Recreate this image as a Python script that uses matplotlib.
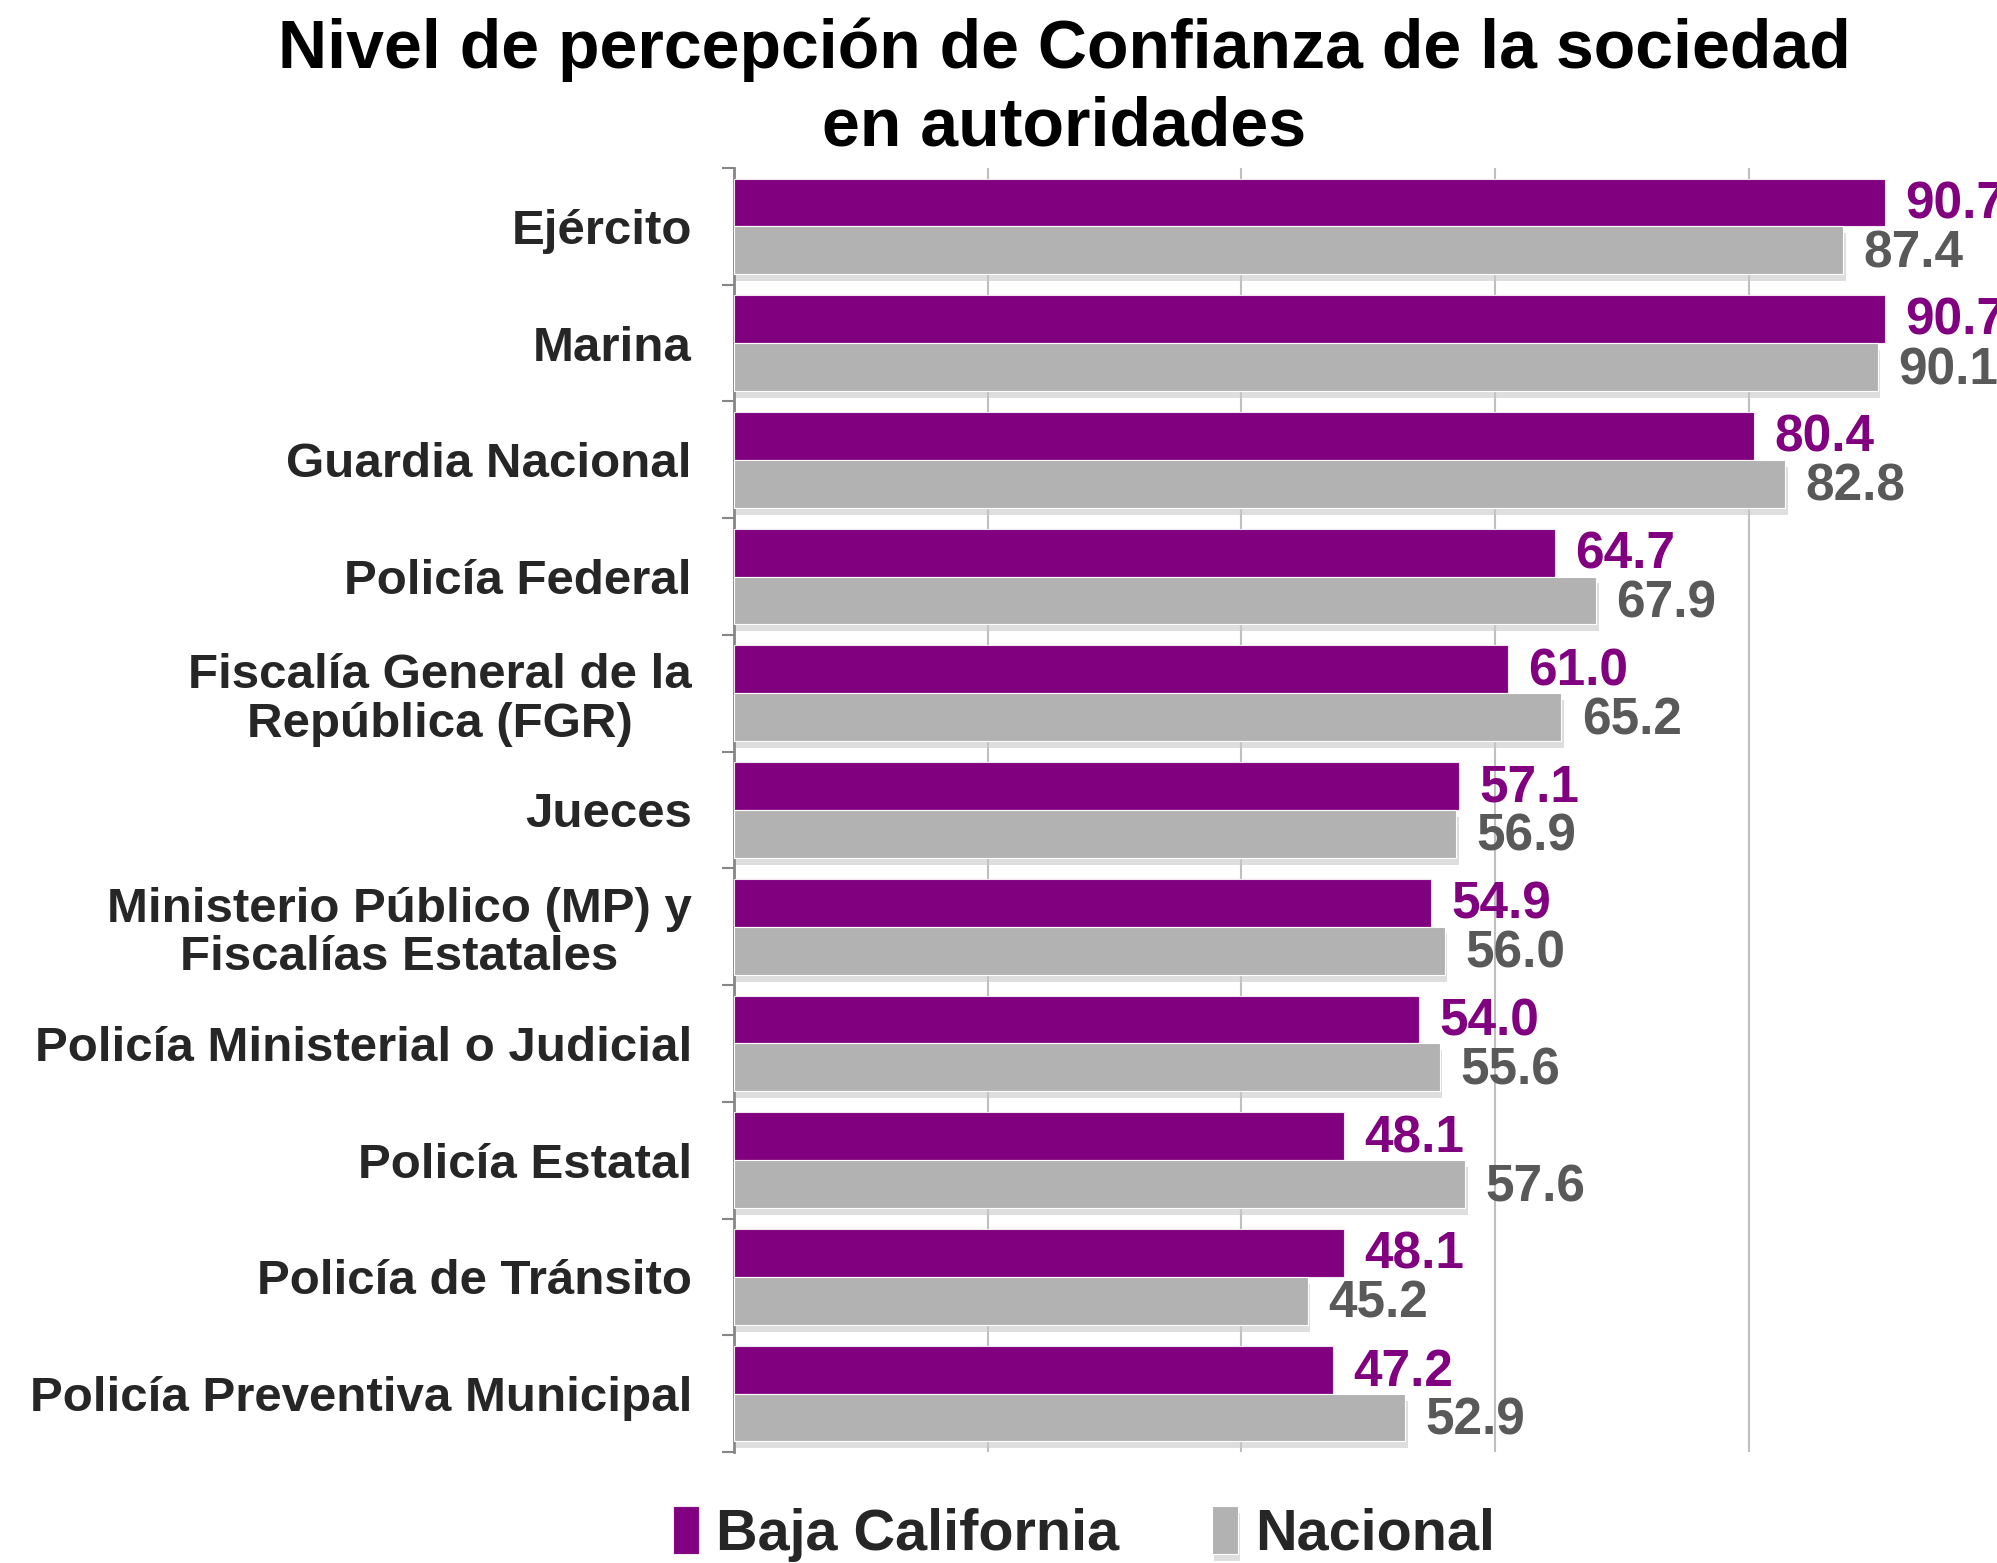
import matplotlib
matplotlib.use("Agg")
import matplotlib.pyplot as plt
import matplotlib.patheffects as pe
import numpy as np

categories = ["Ejército", "Marina", "Guardia Nacional", "Policía Federal",
              "Fiscalía General de la\nRepública (FGR)", "Jueces",
              "Ministerio Público (MP) y\nFiscalías Estatales",
              "Policía Ministerial o Judicial", "Policía Estatal",
              "Policía de Tránsito", "Policía Preventiva Municipal"]
baja_california = [90.7, 90.7, 80.4, 64.7, 61.0, 57.1, 54.9, 54.0, 48.1, 48.1, 47.2]
nacional = [87.4, 90.1, 82.8, 67.9, 65.2, 56.9, 56.0, 55.6, 57.6, 45.2, 52.9]
series_names = ["Baja California", "Nacional"]
title = "Nivel de percepción de Confianza de la sociedad\nen autoridades"

FONT = "Liberation Sans"
plt.rcParams["font.family"] = [FONT, "DejaVu Sans"]

PURPLE = "#800080"
GRAY = "#B2B2B2"
LBL_GRAY = "#595959"
TXT = "#262626"

W, H = 1997, 1563
fig = plt.figure(figsize=(W / 100, H / 100), dpi=100)
ax = fig.add_axes([733.6 / W, 1 - 1452 / H, 1 - 733.6 / W, (1452 - 168) / H])

y = np.arange(len(categories))
h = 0.41
shadow = [pe.SimplePatchShadow(offset=(2, -5), shadow_rgbFace="#c8c8c8", alpha=0.6), pe.Normal()]
b1 = ax.barh(y - h / 2, baja_california, height=h, color=PURPLE, edgecolor="#f0e6f0",
             linewidth=0.8, zorder=3, label=series_names[0])
b2 = ax.barh(y + h / 2, nacional, height=h, color=GRAY, edgecolor="white",
             linewidth=0.8, zorder=3, label=series_names[1], path_effects=shadow)

for yi, v in zip(y, baja_california):
    ax.text(v + 1.6, yi - h / 2 + 0.02, f"{v:.1f}", color=PURPLE, fontsize=37,
            fontweight="bold", va="center", ha="left", zorder=5)
for yi, v in zip(y, nacional):
    ax.text(v + 1.6, yi + h / 2 + 0.03, f"{v:.1f}", color=LBL_GRAY, fontsize=37,
            fontweight="bold", va="center", ha="left", zorder=5)

ax.set_xlim(0, 99.5)
ax.set_ylim(len(categories) - 0.5, -0.5)
ax.set_xticks([0, 20, 40, 60, 80])
ax.set_xticklabels([])
ax.tick_params(axis="x", length=0)
ax.grid(axis="x", color="#BFBFBF", linewidth=1.5, zorder=0)
ax.set_yticks(y)
ax.set_yticklabels(categories, fontsize=35.5, fontweight="bold", color=TXT)
for t in ax.get_yticklabels():
    t.set_multialignment("center")
    t.set_linespacing(1.1)
ax.tick_params(axis="y", which="major", length=0, pad=30)
ax.set_yticks(np.arange(-0.5, len(categories), 1), minor=True)
ax.tick_params(axis="y", which="minor", length=9, width=1.5, color="#868686")
for s in ["top", "right", "bottom"]:
    ax.spines[s].set_visible(False)
ax.spines["left"].set_color("#868686")
ax.spines["left"].set_linewidth(2)

fig.text(1064 / W, 1 - 18 / H, title, ha="center", va="top", fontsize=49,
         fontweight="bold", color="black", linespacing=1.25)

leg = fig.legend(handles=[b1, b2], labels=series_names, loc="center",
                 bbox_to_anchor=(1084 / W, 1 - 1534 / H), ncol=2, frameon=False,
                 prop={"family": FONT, "weight": "bold", "size": 41.5},
                 handlelength=0.45, handleheight=0.9, handletextpad=0.3, columnspacing=1.6)
for t in leg.get_texts():
    t.set_color(TXT)

fig.savefig("out.png", dpi=100)
